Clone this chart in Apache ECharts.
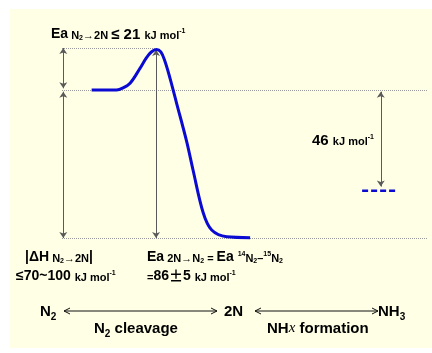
<!DOCTYPE html>
<html>
<head>
<meta charset="utf-8">
<script src="https://cdn.jsdelivr.net/npm/echarts@6/dist/echarts.min.js"></script>
<style>
  html, body { margin: 0; padding: 0; background: #fff; }
  #chart { width: 432px; height: 353px; }
</style>
</head>
<body>
<div id="chart"></div>
<script>
// reaction coordinate (0-100) and schematic energy (kJ/mol, N2 level = 0)
const curveX = [8.1, 14.9, 16.7, 18.6, 21.3, 23.0, 24.4, 25.8, 27.0, 28.1, 29.5, 31.3, 34.1, 35.8, 38.6, 40.9, 45.0, 51.4];
const curveE = [0, 0, 1.0, 3.2, 10.3, 15.2, 18.1, 19.3, 18.1, 13.8, 5.7, -6.2, -24.8, -38.1, -58.6, -66.7, -69.9, -70.3];

// energy levels: transition state, N2, 2N, NHx
const levelNames = ['TS', 'N2', '2N', 'NHx'];
const levelE = [20, 0, -70.5, -48];
const nhxX = [82, 91.3];

const FONT = '"Liberation Sans", Arial, sans-serif';
const CJK = '"Noto Sans CJK JP", sans-serif';
const INK = '#111';
const GUIDE = '#9a9a9a';
const ARROW = '#5a5a5a';
const BLUE = '#0a0ad2';

var myChart = echarts.init(document.getElementById('chart'), null, { renderer: 'canvas' });

// rich text piece: size, top padding (to fake sub/superscripts)
function rs(size, pt, extra) {
  return Object.assign({
    fontFamily: FONT, fontSize: size, fontWeight: 'bold', color: INK,
    verticalAlign: 'top', padding: [pt, 0, 0, 0]
  }, extra || {});
}
const rich = {
  B: rs(14, 0),
  B15: rs(15, 0),
  PM: rs(14, 0, { fontFamily: CJK }),
  S: rs(11, 3),
  SS: rs(7, 8),
  SP: rs(7, 1),
  L: rs(15, 0),
  LS: rs(10, 8),
  LI: rs(15, 0, { fontFamily: '"Liberation Serif", serif', fontStyle: 'italic', fontWeight: 'normal' })
};
function txt(x, y, text) {
  return {
    type: 'text', x: x, y: y, z: 10,
    style: { text: text, rich: rich, align: 'left', verticalAlign: 'top', fontFamily: FONT, fontSize: 14 }
  };
}
// thin double-headed arrow at the bottom
function dArrow(x1, x2, y) {
  const h = 3, l = 6;
  return {
    type: 'group', z: 10,
    children: [
      { type: 'line', shape: { x1: x1, y1: y, x2: x2, y2: y }, style: { stroke: INK, lineWidth: 1 } },
      { type: 'polyline', shape: { points: [[x1 + l, y - h], [x1, y], [x1 + l, y + h]] }, style: { stroke: INK, lineWidth: 1, fill: null } },
      { type: 'polyline', shape: { points: [[x2 - l, y - h], [x2, y], [x2 - l, y + h]] }, style: { stroke: INK, lineWidth: 1, fill: null } }
    ]
  };
}

const dotted = { color: GUIDE, type: 'dotted', width: 1 };
const arrowStyle = { color: ARROW, type: 'solid', width: 1 };
const nArrow = 0.8;
function arrowEnd(x, e) { return { coord: [x, e], symbol: 'arrow', symbolSize: 6 }; }

option = {
  animation: false,
  backgroundColor: '#fff',
  grid: { left: 62, top: 27, width: 366, height: 231 },
  xAxis: { type: 'value', min: 0, max: 100, show: false },
  yAxis: { type: 'value', min: -80, max: 30, show: false },
  graphic: [
    { type: 'rect', z: -10, shape: { x: 10, y: 9, width: 422, height: 339 }, style: { fill: '#ffffe6' } },
    txt(51, 27, '{B|Ea}{S| N}{SS|2}{S|→2N }{B15|≤ 21 }{S|kJ mol}{SP|-1}'),
    txt(25, 250, '{B||ΔH}{S| N}{SS|2}{S|→2N}{B||}'),
    txt(16, 269, '{B|≤70~100 }{S|kJ mol}{SP|-1}'),
    txt(147, 250, '{B|Ea}{S| 2N→N}{SS|2}{S| = }{B|Ea }{SP|14}{S|N}{SS|2}{S|–}{SP|15}{S|N}{SS|2}'),
    txt(147, 269, '{S|=}{B|86}{PM|±}{B|5 }{S|kJ mol}{SP|-1}'),
    txt(312, 133, '{B15|46 }{S|kJ mol}{SP|-1}'),
    txt(40, 304, '{L|N}{LS|2}'),
    txt(224, 304, '{L|2N}'),
    txt(378, 304, '{L|NH}{LS|3}'),
    txt(94, 321, '{L|N}{LS|2}{L| cleavage}'),
    txt(267, 321, '{L|NH}{LI|x}{L| formation}'),
    dArrow(64, 217, 311),
    dArrow(255, 378, 311)
  ],
  series: [
    {
      name: 'energy',
      type: 'line',
      data: curveX.map((x, i) => [x, curveE[i]]),
      smooth: 0.35,
      showSymbol: false,
      lineStyle: { color: BLUE, width: 3 },
      z: 5,
      markLine: {
        silent: true,
        animation: false,
        label: { show: false },
        symbol: ['none', 'none'],
        data: [
          [{ coord: [0, levelE[0]], lineStyle: dotted }, { coord: [25.7, levelE[0]] }],
          [{ coord: [0, levelE[1]], lineStyle: dotted }, { coord: [100, levelE[1]] }],
          [{ coord: [0, levelE[2]], lineStyle: dotted }, { coord: [100, levelE[2]] }],
          [Object.assign(arrowEnd(0.35, levelE[0]), { lineStyle: arrowStyle }), arrowEnd(0.35, levelE[1] + nArrow)],
          [Object.assign(arrowEnd(0.35, levelE[1] - nArrow), { lineStyle: arrowStyle }), arrowEnd(0.35, levelE[2])],
          [Object.assign(arrowEnd(25.7, levelE[0] - 1), { lineStyle: arrowStyle }), arrowEnd(25.7, levelE[2])],
          [Object.assign(arrowEnd(87.1, levelE[1] - nArrow), { lineStyle: arrowStyle }), arrowEnd(87.1, levelE[3] + 2)]
        ]
      }
    },
    {
      name: levelNames[3],
      type: 'line',
      data: nhxX.map(x => [x, levelE[3]]),
      showSymbol: false,
      lineStyle: { color: BLUE, width: 2.5, type: [6, 3] },
      z: 5
    }
  ]
};

myChart.setOption(option);
</script>
</body>
</html>
